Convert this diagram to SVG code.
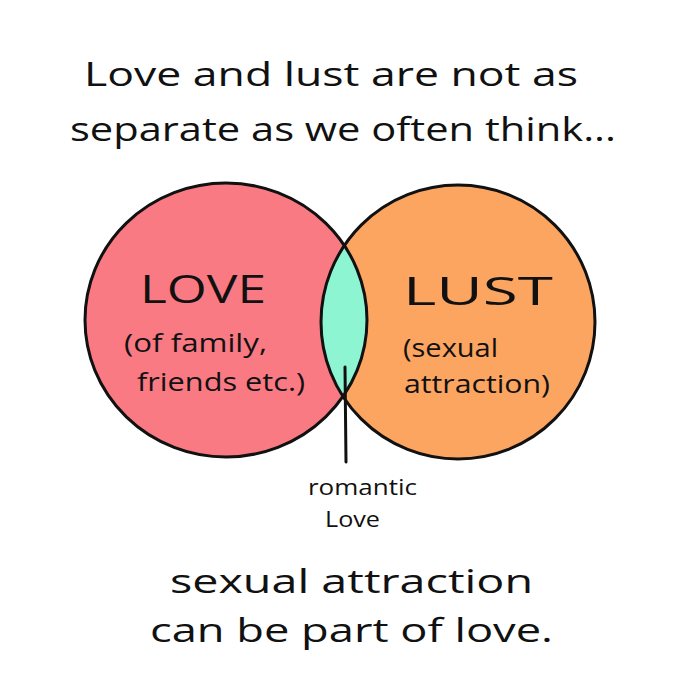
<svg xmlns="http://www.w3.org/2000/svg" width="700" height="700" viewBox="0 0 700 700">
<style>
text{font-family:"Open Sans","Liberation Sans",sans-serif;fill:#111;}
.title{font-size:33px;}
.big{font-size:38px;}
.sub{font-size:25px;}
.small{font-size:21px;}
.outline{fill:none;stroke:#111;stroke-width:3;}
</style>
<defs>
<clipPath id="leftClip"><ellipse cx="226" cy="320" rx="141" ry="137"/></clipPath>
</defs>
<rect width="700" height="700" fill="#fff"/>
<g id="title">
<text class="title" x="84" y="86" textLength="494" lengthAdjust="spacingAndGlyphs">Love and lust are not as</text>
<text class="title" x="70" y="141" textLength="546" lengthAdjust="spacingAndGlyphs">separate as we often think...</text>
</g>
<g id="love">
<ellipse cx="226" cy="320" rx="141" ry="137" fill="#FA7A84"/>
</g>
<g id="lust">
<ellipse cx="458" cy="322" rx="137" ry="137" fill="#FBA561"/>
</g>
<g id="romantic-love">
<ellipse cx="458" cy="322" rx="137" ry="137" fill="#8DF5D2" clip-path="url(#leftClip)"/>
</g>
<g id="outlines">
<ellipse class="outline" cx="226" cy="320" rx="141" ry="137"/>
<ellipse class="outline" cx="458" cy="322" rx="137" ry="137"/>
</g>
<g id="love-text">
<text class="big" x="140" y="303" textLength="126" lengthAdjust="spacingAndGlyphs">LOVE</text>
<text class="sub" x="124" y="352" textLength="143" lengthAdjust="spacingAndGlyphs">(of family,</text>
<text class="sub" x="137" y="391" textLength="168" lengthAdjust="spacingAndGlyphs">friends etc.)</text>
</g>
<g id="lust-text">
<text class="big" x="403" y="305" textLength="150" lengthAdjust="spacingAndGlyphs">LUST</text>
<text class="sub" x="403" y="357" textLength="95" lengthAdjust="spacingAndGlyphs">(sexual</text>
<text class="sub" x="404" y="393" textLength="146" lengthAdjust="spacingAndGlyphs">attraction)</text>
</g>
<g id="connectors">
<path d="M345 367 L346 462" fill="none" stroke="#111" stroke-width="3" stroke-linecap="round"/>
</g>
<g id="romantic-label">
<text class="small" x="308" y="495" textLength="109" lengthAdjust="spacingAndGlyphs">romantic</text>
<text class="small" x="325" y="527" textLength="55" lengthAdjust="spacingAndGlyphs">Love</text>
</g>
<g id="conclusion">
<text class="title" x="170" y="593" textLength="363" lengthAdjust="spacingAndGlyphs">sexual attraction</text>
<text class="title" x="150" y="642" textLength="403" lengthAdjust="spacingAndGlyphs">can be part of love.</text>
</g>
</svg>
